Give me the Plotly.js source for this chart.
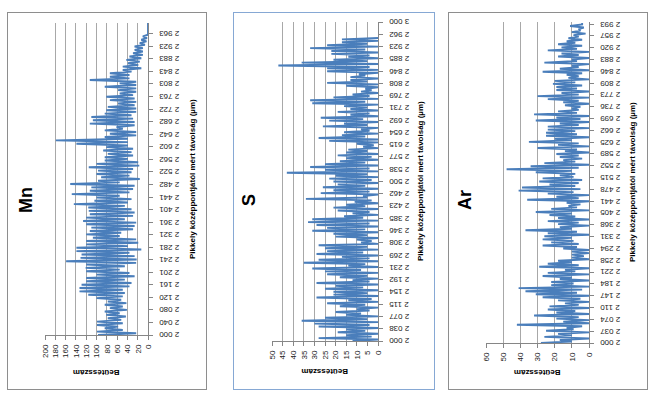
<!DOCTYPE html>
<html><head><meta charset="utf-8">
<script src="https://cdn.plot.ly/plotly-3.0.1.min.js"></script>
<style>
html,body{margin:0;padding:0;background:#fff;width:656px;height:401px;overflow:hidden;position:relative;}
.panel{position:absolute;transform:rotate(-90deg);transform-origin:50% 50%;background:#fff;outline-offset:-1px;}
</style></head><body>
<div id="mn" class="panel"></div>
<div id="s" class="panel"></div>
<div id="ar" class="panel"></div>
<script>
// ---- data ----
const xTitle = 'Pikkely középpontjától mért távolság (µm)';
const yTitle = 'Beütésszám';

const mnTicks = [2000,2040,2080,2120,2161,2201,2241,2281,2321,2361,2401,2441,2482,2522,2562,2602,2642,2682,2722,2763,2803,2843,2883,2923,2963];
const sTicks  = [2000,2038,2077,2115,2154,2192,2231,2269,2308,2346,2385,2423,2462,2500,2538,2577,2615,2654,2692,2731,2769,2808,2846,2885,2923,2962,3000];
const arTicks = [2000,2037,2074,2110,2147,2184,2221,2258,2294,2331,2368,2405,2441,2478,2515,2552,2589,2625,2662,2699,2736,2773,2809,2846,2883,2920,2957,2993];

const mnRange = [2000, 2998];
const sRange  = [2000, 2950];
const arRange = [2000, 2997];

const mnValues = [
97,23, 99,49, 84,58, 99,49, 99,52, 78,43, 81,55, 84,41, 74,49, 84,42, 78,52, 100,49, 116,45, 133,49, 133,36, 129,32,
120,45, 120,26, 100,36, 120,55, 121,45, 120,23, 159,22, 131,26, 129,36, 139,13, 139,39, 120,19, 120,23, 107,55, 120,52,
113,29, 110,26, 120,23, 126,45, 120,29, 113,26, 115,32, 116,45, 144,39, 104,32, 100,55, 148,36, 113,29, 110,26, 151,55,
97,16, 91,36, 100,32, 97,29, 115,17, 100,19, 84,39, 84,29, 78,32, 87,29, 81,39, 139,39, 179,39, 84,23, 74,23, 84,49,
61,26, 113,26, 107,29, 110,32, 84,23, 81,23, 78,26, 58,23, 74,26, 81,29, 55,23, 58,23, 84,23, 55,23, 113,36, 74,36,
74,32, 49,13, 49,19, 39,16, 42,13, 36,10, 29,10, 26,10, 26,6, 16,3, 13,2, 10,0, 0,0,0,0,0,0,0
];

const sValues = [
12,0, 28,3, 15,0, 19,6, 15,0, 28,4, 30,0, 36,5, 25,0, 15,8, 20,4, 10,0, 18,6, 24,0, 14,3, 29,0, 21,5, 21,0, 25,7, 20,0,
29,4, 12,0, 18,5, 24,0, 25,8, 31,0, 14,6, 35,0, 28,4, 17,0, 29,7, 24,0, 25,5, 28,0, 8,3, 10,0, 20,5, 21,0, 31,6, 24,0,
29,4, 33,0, 31,7, 16,0, 12,4, 19,0, 21,6, 15,0, 11,3, 34,5, 7,0, 27,4, 21,0, 26,6, 19,0, 21,3, 23,0,
20,5, 43,0, 25,4, 32,0, 25,6, 18,0, 15,3, 19,0, 15,5, 14,0, 7,2, 10,0, 23,0, 28,6, 17,0, 16,4, 8,0, 26,5, 16,0, 23,7,
27,0, 13,4, 19,0, 13,5, 16,0, 31,6, 32,0, 21,4, 12,0, 8,3, 6,0, 15,0, 24,5, 13,0, 13,6, 9,0, 24,0, 24,4, 47,0, 36,5,
21,0, 14,4, 22,0, 22,6, 32,0, 24,5, 17,0, 17,0
];

const arValues = [
28,10, 17,0, 26,10, 18,0, 25,9, 13,4, 42,0, 15,0, 19,6, 32,0, 19,8, 24,0, 23,6, 14,0, 18,5, 27,0, 31,7, 37,4, 41,0,
22,9, 22,0, 17,10, 27,0, 24,8, 14,0, 29,6, 24,10, 18,0, 10,3, 10,0, 10,0, 15,7, 27,6, 22,9, 27,10, 26,0, 24,7, 37,10,
17,0, 18,6, 24,0, 18,8, 23,10, 31,0, 22,7, 12,5, 13,0, 36,6, 19,0, 24,9, 41,5, 39,8, 23,6, 29,4, 27,9, 17,8,
31,10, 48,6, 34,0, 26,8, 15,4, 17,6, 19,0, 14,7, 30,0, 18,6, 35,10, 20,0, 25,7, 25,8, 24,0, 24,6, 17,0, 31,5, 19,0,
32,7, 18,6, 10,5, 14,0, 15,6, 24,0, 30,6, 16,0, 19,7, 19,4, 21,8, 20,0, 12,6, 13,4, 27,0, 17,6, 10,0, 26,7, 10,0,
18,6, 16,0, 24,7, 16,4, 18,8, 13,4, 12,6, 9,2, 10,5, 6,3, 11,4, 4
];

// ---- drawing ----
const FONT = 'Liberation Sans, Arial, sans-serif';
const LINE = '#4A7EBB';
const fmt = t => String(t).replace(/^(\d)(\d{3})$/, '$1 $2');

const panels = [
  {id:'mn', title:'Mn', values:mnValues, ticks:mnTicks, axisEnd:2998, data:mnRange, vmax:200, dtick:20,
   boxX:7, boxW:200, l:55, r:11, t:38, b:59, titleV:18.5, distV:185.5, border:'#8e8e8e'},
  {id:'s', title:'S', values:sValues, ticks:sTicks, axisEnd:3000, data:sRange, vmax:50, dtick:5,
   boxX:233, boxW:202, l:49, r:10, t:39, b:57, titleV:16, distV:187, border:'#86a8d4'},
  {id:'ar', title:'Ar', values:arValues, ticks:arTicks, axisEnd:3000, data:arRange, vmax:60, dtick:10,
   boxX:448, boxW:200, l:47, r:10, t:38, b:59, titleV:17, distV:184, border:'#8e8e8e'}
];

const BOX_TOP = 12, BOX_H = 378;

panels.forEach(p => {
  const W = BOX_H, H = p.boxW;
  const el = document.getElementById(p.id);
  el.style.width = W + 'px';
  el.style.height = H + 'px';
  el.style.left = (p.boxX + H / 2 - W / 2) + 'px';
  el.style.top = (BOX_TOP + W / 2 - H / 2) + 'px';
  el.style.outline = '1px solid ' + p.border;

  const pw = W - p.l - p.r, ph = H - p.t - p.b;
  const n = p.values.length;
  const trace = {
    type: 'scatter', mode: 'lines', y: p.values,
    x0: p.data[0], dx: (p.data[1] - p.data[0]) / (n - 1),
    line: {color: LINE, width: 1.9}, hoverinfo: 'skip'
  };
  const layout = {
    width: W, height: H,
    margin: {l: p.l, r: p.r, t: p.t, b: p.b, pad: 0},
    paper_bgcolor: 'rgba(0,0,0,0)', plot_bgcolor: 'rgba(0,0,0,0)',
    showlegend: false,
    font: {family: FONT, size: 8, color: '#000'},
    title: {text: p.title, font: {family: FONT, size: 18, weight: 'bold', color: '#000'},
            xref: 'container', yref: 'container', x: 190 / W, xanchor: 'center',
            y: 1 - p.titleV / H, yanchor: 'middle'},
    xaxis: {type: 'linear', range: [2000, p.axisEnd], tickvals: p.ticks, ticktext: p.ticks.map(fmt),
            tickangle: -90, showgrid: false, zeroline: false, showline: true, linecolor: '#868686',
            linewidth: 1, ticks: 'outside', ticklen: 4, tickcolor: '#868686', ticklabelstandoff: 3,
            tickfont: {family: FONT, size: 8, color: '#1a1a1a'}, fixedrange: true},
    yaxis: {range: [0, p.vmax], tick0: 0, dtick: p.dtick, showgrid: true, gridcolor: '#a8a8a8', gridwidth: 1,
            zeroline: false, showline: true, linecolor: '#868686', linewidth: 1, ticks: 'outside',
            ticklen: 4, tickcolor: '#868686', ticklabelstandoff: 3,
            tickfont: {family: FONT, size: 8, color: '#1a1a1a'}, fixedrange: true},
    annotations: [
      {text: xTitle, showarrow: false, xref: 'paper', yref: 'paper',
       x: 0.5, y: -(p.distV - (H - p.b)) / ph, xanchor: 'center', yanchor: 'middle',
       font: {family: FONT, size: 8, weight: 'bold', color: '#000'}},
      {text: yTitle, showarrow: false, textangle: -90, xref: 'paper', yref: 'paper',
       x: (18 - p.l) / pw, y: 0.5, xanchor: 'center', yanchor: 'middle',
       font: {family: FONT, size: 8, weight: 'bold', color: '#000'}}
    ]
  };
  Plotly.newPlot(el, [trace], layout, {staticPlot: true, displayModeBar: false});
});
</script>
</body></html>
